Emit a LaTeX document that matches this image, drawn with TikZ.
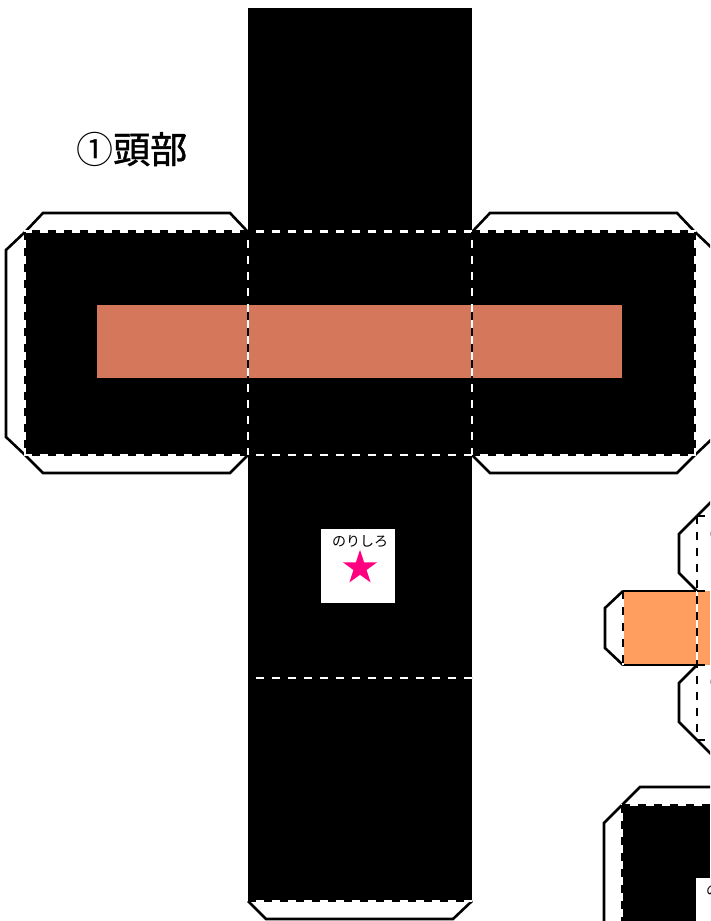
\documentclass[tikz,border=0pt]{standalone}
\usepackage{fontspec}
\newfontfamily\jpfont{Noto Sans CJK JP}
\newfontfamily\jptitle[FakeBold=1.2]{Noto Sans CJK JP}
\usetikzlibrary{shapes.geometric}
\usetikzlibrary{positioning}
\definecolor{clrBand}{RGB}{213,119,90}
\definecolor{clrOrange}{RGB}{255,158,94}
\definecolor{clrStar}{RGB}{255,0,128}
\tikzstyle{face}=[fill=black, draw=none]
\tikzstyle{tabline}=[draw=black, line width=2.6pt, line join=miter]
\tikzstyle{foldwhite}=[draw=white, line width=2.8pt]
\tikzstyle{folddash}=[draw=black, line width=2.8pt, dash pattern=on 8pt off 8pt]
\tikzstyle{small_label}=[font=\jpfont\fontsize{14}{14}\selectfont, inner sep=0pt]

\begin{document}
\begin{tikzpicture}[x=1pt, y=-1pt]
	\clip (0,0) rectangle (710,921);
	\fill[white] (0,0) rectangle (710,921);

	% black faces of the head
	\fill[face] (248,8) rectangle (472,901);
	\fill[face] (25,232) rectangle (695,455);
	\fill[clrBand] (97,305) rectangle (622,378);

	% glue tabs
	\draw[tabline] (25,232) -- (43,213) -- (230,213) -- (248,232);
	\draw[tabline] (25,232) -- (6,250) -- (6,437) -- (25,455);
	\draw[tabline] (25,455) -- (43,473) -- (230,473) -- (248,455);
	\draw[tabline] (472,232) -- (490,213) -- (677,213) -- (695,232);
	\draw[tabline] (695,232) -- (714,250) -- (714,437) -- (695,455);
	\draw[tabline] (472,455) -- (490,473) -- (677,473) -- (695,455);
	\draw[tabline] (248,901) -- (266,919) -- (453,919) -- (472,901);

	% folds
	\draw[foldwhite] (248,231.5) -- (25,231.5) -- (25,455) -- (248,455);
	\draw[folddash] (248,231.5) -- (25,231.5);
	\draw[folddash] (25,231.5) -- (25,455);
	\draw[folddash] (248,455) -- (25,455);
	\draw[foldwhite] (472,231.5) -- (695,231.5) -- (695,455) -- (472,455);
	\draw[folddash] (472,231.5) -- (695,231.5);
	\draw[folddash] (695,231.5) -- (695,455);
	\draw[folddash] (472,455) -- (695,455);
	\draw[foldwhite] (248,231.5) -- (472,231.5);
	\draw[folddash] (248,231.5) -- (472,231.5);
	\draw[foldwhite] (248,455) -- (472,455);
	\draw[folddash] (248,455) -- (472,455);
	\draw[foldwhite] (248,231.5) -- (248,455);
	\draw[folddash] (248,231.5) -- (248,455);
	\draw[foldwhite] (472,231.5) -- (472,455);
	\draw[folddash] (472,231.5) -- (472,455);
	\draw[foldwhite] (248,678) -- (472,678);
	\draw[folddash] (248,678) -- (472,678);
	\draw[foldwhite] (248,901) -- (472,901);
	\draw[folddash] (248,901) -- (472,901);

	% glue spot
	\fill[white] (321,529) rectangle (395,603);
	\node[small_label] (glue) at (360,541) {のりしろ};
	\node[star, star points=5, star point ratio=2.6, fill=clrStar, minimum size=36pt, inner sep=0pt, below=2pt of glue] (mark) {};

	% title
	\node[font=\jpfont\fontsize{37}{37}\selectfont, inner sep=0pt, anchor=west] (title) at (76,149) {①{\jptitle 頭部}};

	% next piece, cut by the page
	\fill[clrOrange] (623,591) rectangle (710,665);
	\draw[tabline] (623,591) -- (605,608) -- (605,648) -- (623,665);
	\draw[tabline] (623,591) -- (697,591);
	\draw[tabline] (623,665) -- (705,665);
	\draw[tabline] (697,516) -- (679,534) -- (679,573) -- (697,591);
	\draw[tabline] (697,665) -- (679,683) -- (679,722) -- (697,740) -- (715,758);
	\draw[tabline] (697,516) -- (712,501);
	\draw[foldwhite] (623,591) -- (623,665);
	\draw[folddash] (623,591) -- (623,665);
	\draw[foldwhite] (697,591) -- (697,665);
	\draw[folddash] (697,516) -- (697,740);
	\draw[folddash] (697,516) -- (710,516);
	\draw[folddash] (697,591) -- (710,591);
	\draw[folddash] (697,740) -- (710,740);

	% lowest piece, cut by the page
	\fill[face] (622,805) rectangle (710,921);
	\draw[tabline] (622,805) -- (604,823) -- (604,921);
	\draw[tabline] (622,805) -- (640,787) -- (710,787);
	\draw[foldwhite] (710,805) -- (622,805) -- (622,921);
	\draw[folddash] (710,805) -- (622,805);
	\draw[folddash] (622,805) -- (622,921);
	\fill[white] (696,878) rectangle (710,921);
	\node[small_label, anchor=west] (glue2) at (706,890) {のりしろ};
	\node[small_label, anchor=west, text=gray] (glue3) at (709,533) {のりしろ};
	\node[small_label, anchor=west, text=gray] (glue4) at (709,681) {のりしろ};
\end{tikzpicture}
\end{document}
